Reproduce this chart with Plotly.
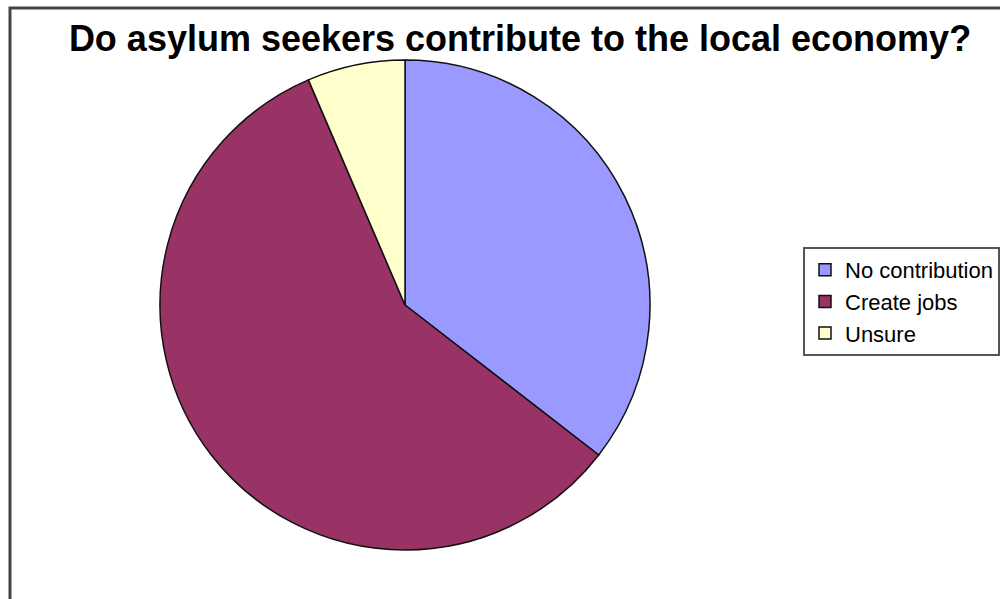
import plotly.graph_objects as go

# Survey responses
labels = ["No contribution", "Create jobs", "Unsure"]
counts = [11, 18, 2]
colors = ["#9999FF", "#993366", "#FFFFCC"]

W, H = 1000, 599

fig = go.Figure(
    go.Pie(
        labels=labels,
        values=counts,
        sort=False,
        direction="clockwise",
        rotation=0,
        marker=dict(colors=colors, line=dict(color="#111111", width=1.5)),
        textinfo="none",
        hoverinfo="label+value+percent",
        domain=dict(x=[0.16, 0.65], y=[0.0818, 0.8998]),
    )
)

# chart area frame (top and left edges visible)
fig.add_shape(
    type="rect", xref="paper", yref="paper",
    x0=10 / W, x1=1.05, y0=-0.05, y1=1 - 8 / H,
    line=dict(color="#444444", width=3),
    fillcolor="rgba(0,0,0,0)",
)

fig.update_layout(
    width=W,
    height=H,
    margin=dict(l=0, r=0, t=0, b=0, autoexpand=False),
    paper_bgcolor="white",
    plot_bgcolor="white",
    title=dict(
        text="<b>Do asylum seekers contribute to the local economy?</b>",
        x=0.52, xanchor="center",
        y=1 - 38 / H, yanchor="middle",
        font=dict(family="Liberation Sans, Arial, sans-serif", size=36, color="black"),
    ),
    legend=dict(
        xref="container", yref="container",
        x=0.803, xanchor="left",
        y=1 - 247 / H, yanchor="top",
        font=dict(family="Liberation Sans, Arial, sans-serif", size=22, color="black"),
        bordercolor="#555555",
        borderwidth=2,
        bgcolor="white",
        tracegroupgap=0,
    ),
    showlegend=True,
)

fig.write_html("out.html")
